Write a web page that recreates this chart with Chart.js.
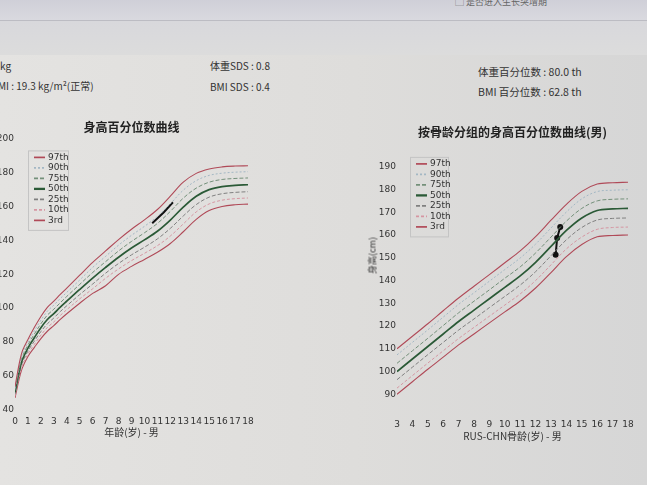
<!DOCTYPE html>
<html>
<head>
<meta charset="utf-8">
<script src="https://cdn.jsdelivr.net/npm/chart.js@4/dist/chart.umd.min.js"></script>
<style>
  body { margin:0; width:647px; height:485px; overflow:hidden; position:relative;
         background: linear-gradient(90deg, #e4e3e1 0%, #dedddb 55%, #d6d6d6 100%);
         font-family: "Noto Sans CJK SC", "Noto Sans", sans-serif; color:#333; }
  .bar { position:absolute; left:0; top:0; width:647px; height:20px;
         background: linear-gradient(180deg, #cfcfd8, #d9d9df); border-bottom:1px solid #bcbcc3; }
  .band { position:absolute; left:0; top:21px; width:647px; height:34px;
          background: linear-gradient(180deg, #d8d8dc, #dcdcdc); }
  .t { position:absolute; font-size:10px; white-space:nowrap; line-height:12px; }
  .r { font-size:10.5px; }
  canvas { position:absolute; }
  .ytitle { position:absolute; left:352px; top:249px; width:40px; text-align:center;
            font-size:9px; color:#333; transform:rotate(-90deg); white-space:nowrap; }
</style>
</head>
<body>
<div class="bar"></div>
<div class="band"></div>
<div class="t" style="left:455px;top:-4px;color:#666;font-size:9px">▢ 是否进入生长突增期</div>
<div class="t" style="left:0;top:60px">kg</div>
<div class="t" style="left:210px;top:60px">体重SDS : 0.8</div>
<div class="t r" style="left:478px;top:66px">体重百分位数 : 80.0 th</div>
<div class="t" style="left:-2px;top:80px">MI : 19.3 kg/m²(正常)</div>
<div class="t" style="left:210px;top:81px">BMI SDS : 0.4</div>
<div class="t r" style="left:478px;top:86px">BMI 百分位数 : 62.8 th</div>

<canvas id="ageChart" width="275" height="326" style="left:-13px;top:112px"></canvas>
<canvas id="boneChart" width="317" height="330" style="left:330px;top:112px"></canvas>
<div class="ytitle">身高(cm)</div>

<script>
// percentile labels (legend order)
var pctLabels = ['97th', '90th', '75th', '50th', '25th', '10th', '3rd'];

// chronological age chart (boys), ages in years
var ages = [0, 0.5, 1, 1.5, 2, 2.5, 3, 3.5, 4, 5, 6, 7, 8, 9, 10, 11, 12, 13, 14, 15, 16, 17, 18];
var age97 = [53.8, 73.1, 81.5, 88.7, 95.1, 100.5, 104.1, 108.1, 111.8, 119.4, 127.0, 133.7, 140.4, 146.5, 152.0, 158.1, 166.0, 174.2, 179.4, 182.0, 183.2, 183.7, 183.9];
var age90 = [52.7, 71.5, 79.9, 86.7, 92.9, 98.2, 101.8, 105.7, 109.3, 116.6, 124.0, 130.5, 137.1, 142.9, 148.2, 154.0, 161.5, 169.5, 175.1, 178.2, 179.5, 180.1, 180.4];
var age75 = [51.6, 69.8, 78.3, 84.8, 90.8, 95.9, 99.4, 103.2, 106.9, 114.0, 121.0, 127.4, 133.7, 139.3, 144.4, 149.9, 157.0, 164.8, 170.7, 174.2, 175.8, 176.4, 176.7];
var age50 = [50.4, 68.1, 76.5, 82.7, 88.5, 93.3, 96.8, 100.6, 104.1, 111.0, 117.7, 124.0, 130.0, 135.4, 140.2, 145.3, 151.9, 159.5, 165.9, 169.8, 171.6, 172.3, 172.7];
var age25 = [49.2, 66.4, 74.7, 80.6, 86.2, 90.8, 94.2, 98.0, 101.4, 108.0, 114.2, 120.6, 126.3, 131.4, 135.9, 140.8, 147.0, 154.3, 161.0, 165.4, 167.4, 168.2, 168.6];
var age10 = [48.1, 64.8, 73.1, 78.7, 84.1, 88.6, 91.9, 95.7, 99.1, 105.5, 111.4, 117.6, 123.1, 128.0, 132.3, 136.8, 142.5, 149.6, 156.7, 161.4, 163.6, 164.5, 164.9];
var age3 = [47.1, 63.3, 71.5, 76.9, 82.1, 86.4, 89.7, 93.4, 96.7, 102.9, 108.7, 113.2, 119.9, 124.6, 128.7, 132.9, 138.1, 145.0, 152.3, 157.5, 159.9, 160.9, 161.3];
var patientAge = [10.6, 11.5, 12.2];
var patientAgeHeight = [150.0, 156.5, 162.4];

// bone age chart (RUS-CHN, boys)
var boneAges = [3, 4, 5, 6, 7, 8, 9, 10, 11, 12, 13, 14, 15, 16, 17, 18];
var bone97 = [110, 115.5, 121, 126.7, 132.3, 137.5, 142.6, 147.8, 153, 159.3, 166.5, 173.5, 179.2, 182.4, 183, 183.2];
var bone90 = [107.3, 112.8, 118.3, 123.9, 129.5, 134.6, 139.7, 144.8, 149.9, 156, 163.1, 170.1, 175.9, 179.1, 179.7, 179.9];
var bone75 = [103.6, 109.1, 114.6, 120.2, 125.8, 130.9, 135.9, 141, 146, 152.1, 159.1, 166.1, 171.7, 175, 175.7, 175.9];
var bone50 = [100, 105.5, 111, 116.5, 122, 127, 132, 137, 142, 148, 155, 162, 167.5, 170.8, 171.5, 171.7];
var bone25 = [96.4, 101.9, 107.4, 112.8, 118.2, 123.1, 128.1, 133, 138, 143.9, 150.9, 157.9, 163.3, 166.6, 167.3, 167.5];
var bone10 = [92.7, 98.2, 103.7, 109.1, 114.5, 119.4, 124.3, 129.2, 134.1, 140, 146.9, 153.9, 159.1, 162.5, 163.3, 163.5];
var bone3 = [90, 95.5, 101, 106.3, 111.7, 116.5, 121.4, 126.2, 131, 136.7, 143.5, 150.5, 155.8, 159.2, 159.8, 160];
var patientBone = [13.3, 13.4, 13.6];
var patientBoneHeight = [151.3, 158.7, 163.5];

var ageYTicks = [40, 60, 80, 100, 120, 140, 160, 180, 200];
var boneYTicks = [90, 100, 110, 120, 130, 140, 150, 160, 170, 180, 190];

var lineStyles = [
  { color: '#b04a58', dash: [], width: 1.1 },
  { color: '#a3b7c4', dash: [2, 2], width: 1 },
  { color: '#74907a', dash: [4, 2], width: 1 },
  { color: '#2b5a37', dash: [], width: 1.7 },
  { color: '#808080', dash: [4, 2], width: 1 },
  { color: '#d596a2', dash: [3, 2], width: 1 },
  { color: '#b04a58', dash: [], width: 1.1 }
];

function pairs(xs, ys) {
  return xs.map(function (x, i) { return { x: x, y: ys[i] }; });
}

function buildSets(xs, series, px, py, pointR) {
  var sets = series.map(function (s, i) {
    return {
      label: pctLabels[i], data: pairs(xs, s),
      borderColor: lineStyles[i].color, borderDash: lineStyles[i].dash,
      borderWidth: lineStyles[i].width, pointRadius: 0, tension: 0.35, fill: false
    };
  });
  sets.push({
    label: 'patient', data: pairs(px, py), inLegend: false,
    borderColor: '#111', backgroundColor: '#111', borderWidth: 2,
    pointRadius: pointR, tension: 0
  });
  return sets;
}

// legend box drawn inside the plot area
var boxLegend = {
  id: 'boxLegend',
  afterDraw: function (chart, args, opts) {
    var ctx = chart.ctx, a = chart.chartArea;
    var x0 = a.left + opts.x, y0 = a.top + opts.y;
    var items = chart.data.datasets.filter(function (d) { return d.inLegend !== false; });
    ctx.save();
    ctx.strokeStyle = '#c4c4c4';
    ctx.lineWidth = 1;
    ctx.strokeRect(x0 + 0.5, y0 + 0.5, opts.w, items.length * opts.rowH + 6);
    ctx.font = '9px "DejaVu Sans", sans-serif';
    ctx.textBaseline = 'middle';
    items.forEach(function (d, i) {
      var y = y0 + 7 + i * opts.rowH;
      ctx.beginPath();
      ctx.strokeStyle = d.borderColor;
      ctx.lineWidth = d.borderWidth + 0.6;
      ctx.setLineDash(d.borderDash);
      ctx.moveTo(x0 + 6, y);
      ctx.lineTo(x0 + 17, y);
      ctx.stroke();
      ctx.setLineDash([]);
      ctx.fillStyle = '#333';
      ctx.fillText(d.label, x0 + 20, y);
    });
    ctx.restore();
  }
};

function makeChart(id, cfg) {
  return new Chart(document.getElementById(id), {
    type: 'line',
    data: { datasets: cfg.sets },
    plugins: [boxLegend],
    options: {
      responsive: false, animation: false,
      layout: { padding: cfg.pad },
      plugins: {
        legend: { display: false }, tooltip: { enabled: false },
        title: {
          display: true, text: cfg.title, color: '#222', fullSize: false,
          font: { size: 12, weight: 'bold', family: '"Noto Sans CJK SC"' },
          padding: cfg.titlePad
        },
        boxLegend: cfg.legend
      },
      scales: {
        x: {
          type: 'linear', min: cfg.xMin, max: cfg.xMax,
          grid: { display: false, drawTicks: false }, border: { display: false },
          ticks: { stepSize: 1, color: '#333', padding: cfg.xPad, maxRotation: 0, autoSkip: false,
                   font: { size: 9, family: '"DejaVu Sans"' } },
          title: { display: true, text: cfg.xTitle, color: '#333', padding: 0,
                   font: { size: 10, family: '"Noto Sans CJK SC"' } },
          afterFit: function (s) { s.height = cfg.xH; }
        },
        y: {
          type: 'linear', min: cfg.yMin, max: cfg.yMax,
          grid: { display: false, drawTicks: false }, border: { display: false },
          ticks: { color: '#333', padding: 1, font: { size: 9, family: '"DejaVu Sans"' } },
          afterBuildTicks: function (s) { s.ticks = cfg.yTicks.map(function (v) { return { value: v }; }); },
          afterFit: function (s) { s.width = cfg.yW; }
        }
      }
    }
  });
}

makeChart('ageChart', {
  sets: buildSets(ages, [age97, age90, age75, age50, age25, age10, age3], patientAge, patientAgeHeight, 0),
  title: '身高百分位数曲线', titlePad: { top: 8, bottom: 4 },
  pad: { left: 0, right: 14, top: 0, bottom: 0 },
  xMin: 0, xMax: 18, xTitle: '年龄(岁) - 男', xH: 28, xPad: 6,
  yMin: 40, yMax: 200, yTicks: ageYTicks, yW: 28,
  legend: { x: 13, y: 12, w: 40, rowH: 10.5 }
});

makeChart('boneChart', {
  sets: buildSets(boneAges, [bone97, bone90, bone75, bone50, bone25, bone10, bone3], patientBone, patientBoneHeight, 2),
  title: '按骨龄分组的身高百分位数曲线(男)', titlePad: { top: 13, bottom: 16 },
  pad: { left: 30, right: 19, top: 0, bottom: 0 },
  xMin: 3, xMax: 18, xTitle: 'RUS-CHN骨龄(岁) - 男', xH: 25, xPad: 2,
  yMin: 80, yMax: 195, yTicks: boneYTicks, yW: 37,
  legend: { x: 13, y: 1.5, w: 38, rowH: 10.5 }
});
</script>
</body>
</html>
